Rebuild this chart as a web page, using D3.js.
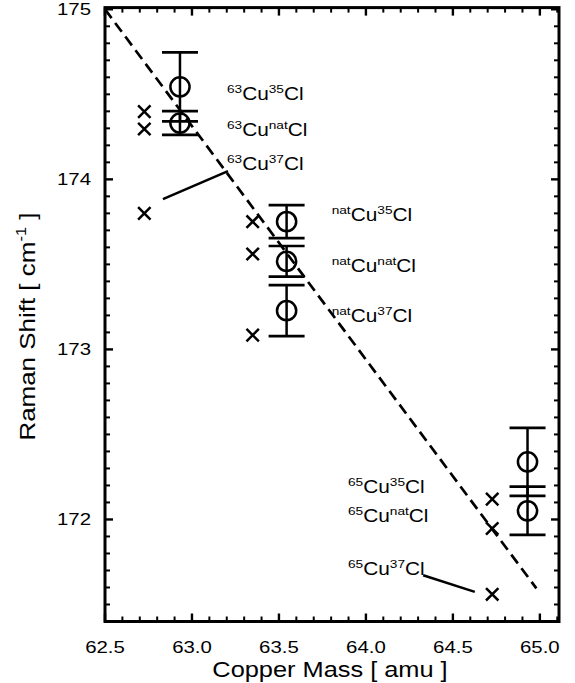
<!DOCTYPE html>
<html><head><meta charset="utf-8">
<script src="https://cdn.jsdelivr.net/npm/d3@7/dist/d3.min.js"></script>
<style>html,body{margin:0;padding:0;background:#fff;}svg{display:block;}</style>
</head><body>
<script>
// ---- data ----
const crossMass  = [62.726, 62.726, 62.726, 63.349, 63.349, 63.349, 64.726, 64.726, 64.726];
const crossShift = [174.398, 174.296, 173.80, 173.751, 173.561, 173.084, 172.12, 171.947, 171.56];
const circleMass  = [62.931, 62.931, 63.544, 63.544, 63.544, 64.929, 64.929];
const circleShift = [174.544, 174.331, 173.752, 173.518, 173.228, 172.339, 172.051];
const circleErr   = [0.203, 0.07, 0.097, 0.09, 0.15, 0.2, 0.142];
const fitMass  = [62.5, 64.98];
const fitShift = [175.0, 171.595];
const labelCu = ["63", "63", "63", "nat", "nat", "nat", "65", "65", "65"];
const labelCl = ["35", "nat", "37", "35", "nat", "37", "35", "nat", "37"];
const labelMass  = [63.201, 63.201, 63.201, 63.803, 63.803, 63.803, 63.897, 63.897, 63.897];
const labelShift = [174.466, 174.255, 174.055, 173.755, 173.455, 173.16, 172.155, 171.985, 171.673];
const leaderFrom = [[62.833, 173.884], [64.329, 171.672]];
const leaderTo   = [[63.207, 174.049], [64.626, 171.574]];
const xTicks = [62.5, 63.0, 63.5, 64.0, 64.5, 65.0];
const yTicks = [172, 173, 174, 175];
const xTitle = "Copper Mass [ amu ]";
const yTitle = "Raman Shift [ cm";

// ---- layout ----
const W = 575, H = 683;
const L = 105, R = 559, T = 7.6, B = 621.5;
const FONT = "'Liberation Sans', Arial, Helvetica, sans-serif";
const x = d3.scaleLinear().domain([62.5, 65.11]).range([L, R]);
const y = d3.scaleLinear().domain([171.4, 175.01]).range([B, T]);

const svg = d3.select("body").append("svg").attr("width", W).attr("height", H)
  .style("font-family", FONT);

// minor + major ticks, inward on all sides
const xMinor = d3.range(62.5, 65.11, 0.1).map(v => +v.toFixed(2));
const yMinor = d3.range(171.4, 175.01, 0.1).map(v => +v.toFixed(2));
const isMajX = v => Math.abs(v * 2 - Math.round(v * 2)) < 1e-6;
const isMajY = v => Math.abs(v - Math.round(v)) < 1e-6;
const tg = svg.append("g").attr("stroke", "#000");
xMinor.forEach(v => {
  const len = isMajX(v) ? 8 : 5, sw = isMajX(v) ? 2.4 : 2;
  tg.append("line").attr("x1", x(v)).attr("x2", x(v)).attr("y1", B).attr("y2", B - len).attr("stroke-width", sw);
  tg.append("line").attr("x1", x(v)).attr("x2", x(v)).attr("y1", T).attr("y2", T + len).attr("stroke-width", sw);
});
yMinor.forEach(v => {
  const len = isMajY(v) ? 8 : 5, sw = isMajY(v) ? 2.4 : 2;
  tg.append("line").attr("y1", y(v)).attr("y2", y(v)).attr("x1", L).attr("x2", L + len).attr("stroke-width", sw);
  tg.append("line").attr("y1", y(v)).attr("y2", y(v)).attr("x1", R).attr("x2", R - len).attr("stroke-width", sw);
});

// frame
svg.append("rect").attr("x", L).attr("y", T).attr("width", R - L).attr("height", B - T)
  .attr("fill", "none").attr("stroke", "#000").attr("stroke-width", 3);

// tick labels
const fmt = d3.format(".1f");
xTicks.forEach(v => {
  svg.append("text").attr("transform", `translate(${x(v)},${B + 31}) scale(1.2,1)`)
    .attr("text-anchor", "middle").attr("font-size", 17).text(fmt(v));
});
yTicks.forEach(v => {
  svg.append("text").attr("transform", `translate(${L - 14},${y(v) + 6}) scale(1.2,1)`)
    .attr("text-anchor", "end").attr("font-size", 17).text(v);
});

// axis titles
svg.append("text").attr("transform", `translate(${(L + R) / 2 - 2},${H - 6}) scale(1.18,1)`)
  .attr("text-anchor", "middle").attr("font-size", 21.5).text(xTitle);
const yt = svg.append("text").attr("transform", `translate(35,${(T + B) / 2 + 12}) rotate(-90) scale(1.18,1)`)
  .attr("text-anchor", "middle").attr("font-size", 22);
yt.append("tspan").text(yTitle);
yt.append("tspan").attr("font-size", 14).attr("dy", -9).text("-1");
yt.append("tspan").attr("dy", 9).text(" ]");

// fit line (dashed)
svg.append("line")
  .attr("x1", x(fitMass[0])).attr("y1", y(fitShift[0]))
  .attr("x2", x(fitMass[1])).attr("y2", y(fitShift[1]))
  .attr("stroke", "#000").attr("stroke-width", 2.7).attr("stroke-dasharray", "11,6");

// leader lines
leaderFrom.forEach((p, i) => {
  svg.append("line").attr("x1", x(p[0])).attr("y1", y(p[1]))
    .attr("x2", x(leaderTo[i][0])).attr("y2", y(leaderTo[i][1]))
    .attr("stroke", "#000").attr("stroke-width", 2.5);
});

// crosses
const cs = 6.2;
crossMass.forEach((m, i) => {
  const cx = x(m), cy = y(crossShift[i]);
  svg.append("path").attr("d", `M${cx - cs},${cy - cs}L${cx + cs},${cy + cs}M${cx - cs},${cy + cs}L${cx + cs},${cy - cs}`)
    .attr("stroke", "#000").attr("stroke-width", 2.5).attr("fill", "none");
});

// error bars + circles
const capW = 18;
circleMass.forEach((m, i) => {
  const cx = x(m), v = circleShift[i], e = circleErr[i];
  const g = svg.append("g").attr("stroke", "#000").attr("fill", "none");
  g.append("line").attr("x1", cx).attr("x2", cx).attr("y1", y(v + e)).attr("y2", y(v - e)).attr("stroke-width", 2.5);
  g.append("line").attr("x1", cx - capW).attr("x2", cx + capW).attr("y1", y(v + e)).attr("y2", y(v + e)).attr("stroke-width", 2.7);
  g.append("line").attr("x1", cx - capW).attr("x2", cx + capW).attr("y1", y(v - e)).attr("y2", y(v - e)).attr("stroke-width", 2.7);
  g.append("circle").attr("cx", cx).attr("cy", y(v)).attr("r", 9.6).attr("stroke-width", 2.5);
});

// isotope labels
labelCu.forEach((cu, i) => {
  const t = svg.append("text").attr("transform", `translate(${x(labelMass[i])},${y(labelShift[i])}) scale(1.19,1)`)
    .attr("font-size", 17.5);
  t.append("tspan").attr("font-size", 11.5).attr("dy", -7).text(cu);
  t.append("tspan").attr("dy", 7).text("Cu");
  t.append("tspan").attr("font-size", 11.5).attr("dy", -7).text(labelCl[i]);
  t.append("tspan").attr("dy", 7).text("Cl");
});
</script>
</body></html>
